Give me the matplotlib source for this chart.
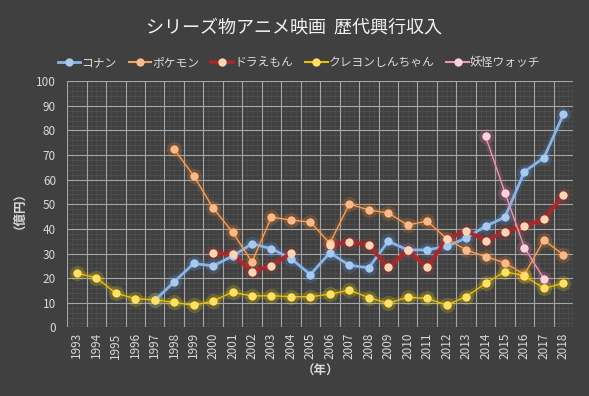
import numpy as np
import matplotlib
matplotlib.use("Agg")
import matplotlib.pyplot as plt
from matplotlib.lines import Line2D

plt.rcParams['font.family'] = ['Noto Sans CJK JP', 'DejaVu Sans']

nan = np.nan
years = list(range(1993, 2019))

# 興行収入 (億円)
conan = [nan] * 4 + [11, 18.5, 26, 25, 29, 34, 32, 28, 21.5, 30.3, 25.3, 24.2,
                     35, 31.5, 31.5, 32.9, 36.3, 41.1, 44.8, 63.3, 68.9, 86.5]
pokemon = [nan] * 5 + [72.4, 61.6, 48.5, 38.7, 26.6, 44.8, 43.6, 42.8, 34.2, 50.1,
                       47.7, 46.5, 41.6, 43.2, 36.1, 31.5, 28.8, 26.2, 21.5, 35.5, 29.5]
doraemon = [nan] * 7 + [30.2, 29.7, 22.7, 25.1, 30.2, nan, 33.4, 34.8, 33.5, 24.4,
                        31.4, 24.4, 35.9, 39.3, 35.3, 38.9, 41.2, 43.9, 53.7]
crayon = [22, 20.2, 13.9, 11.7, 11.2, 10.2, 9.0, 10.8, 14.3, 12.8, 12.9, 12.5, 12.5,
          13.5, 15.2, 12.1, 9.8, 12.3, 11.8, 9.1, 12.5, 17.9, 22.7, 20.9, 15.9, 17.9]
youkai = [nan] * 21 + [77.6, 54.7, 32.4, 19.8, nan]

names = ["コナン", "ポケモン", "ドラえもん", "クレヨンしんちゃん", "妖怪ウォッチ"]
series = [conan, pokemon, doraemon, crayon, youkai]
line_cols = ["#8db4e2", "#f0a060", "#a8282c", "#e8c000", "#e898b0"]
mark_cols = ["#a9c9ee", "#f9b98a", "#fcd5b4", "#ffe066", "#fcd0dc"]
glow_cols = ["#4a90e2", "#f08020", "#c03030", "#f0d000", "#e070a0"]
widths = [2.0, 1.0, 2.6, 1.0, 1.0]

bg = "#404040"
fig = plt.figure(figsize=(5.89, 3.96), dpi=100, facecolor=bg)
ax = fig.add_axes([0.114, 0.173, 0.859, 0.622], facecolor=bg)

x = np.arange(len(years))

# grid
for v in np.arange(0, 101, 2):
    ax.axhline(v, color="#525252", lw=0.5, zorder=0)
for v in np.arange(-0.5, 25.6, 0.25):
    ax.axvline(v, color="#4e4e4e", lw=0.5, zorder=0)
for v in range(0, 101, 10):
    ax.axhline(v, color="#a6a6a6", lw=0.8, zorder=1)
for v in np.arange(-0.5, 25.6, 1):
    ax.axvline(v, color="#a6a6a6", lw=0.8, zorder=1)

for i, s in enumerate(series):
    y = np.array(s, dtype=float)
    ax.plot(x, y, color=glow_cols[i], lw=widths[i] + 4, alpha=0.15, zorder=2,
            solid_capstyle="round")
    ax.plot(x, y, ls="none", marker="o", ms=11, color=glow_cols[i], alpha=0.22,
            mec="none", zorder=2)
    ax.plot(x, y, color=line_cols[i], lw=widths[i], zorder=3 + i * 0.1)
    ax.plot(x, y, ls="none", marker="o", ms=6, color=mark_cols[i], mec="none",
            zorder=4 + i * 0.1)

ax.set_xlim(-0.5, 25.5)
ax.set_ylim(0, 100)
ax.set_yticks(range(0, 101, 10))
ax.set_xticks(x)
ax.set_xticklabels([str(y) for y in years], rotation=90)
ax.tick_params(colors="#d9d9d9", labelsize=8.5, length=0)
ax.tick_params(axis="y", pad=8)
for sp in ax.spines.values():
    sp.set_visible(False)

ax.set_ylabel("（億円）", color="#d9d9d9", fontsize=9, fontweight="bold", labelpad=12)
ax.set_xlabel("（年）", color="#d9d9d9", fontsize=9, fontweight="bold", labelpad=4)

fig.text(0.5, 0.93, "シリーズ物アニメ映画  歴代興行収入", ha="center", va="center",
         color="#f2f2f2", fontsize=13)

handles = [Line2D([0], [0], color=line_cols[i], lw=max(widths[i], 1.5), marker="o",
                  ms=6, mfc=mark_cols[i], mec="none") for i in range(5)]
fig.legend(handles, names, loc="center", bbox_to_anchor=(0.508, 0.843), ncol=5,
           frameon=False, fontsize=8.5, labelcolor="#d9d9d9", handlelength=1.9,
           handletextpad=0.1, columnspacing=1.0)

fig.savefig("out.png", dpi=100, facecolor=bg)
